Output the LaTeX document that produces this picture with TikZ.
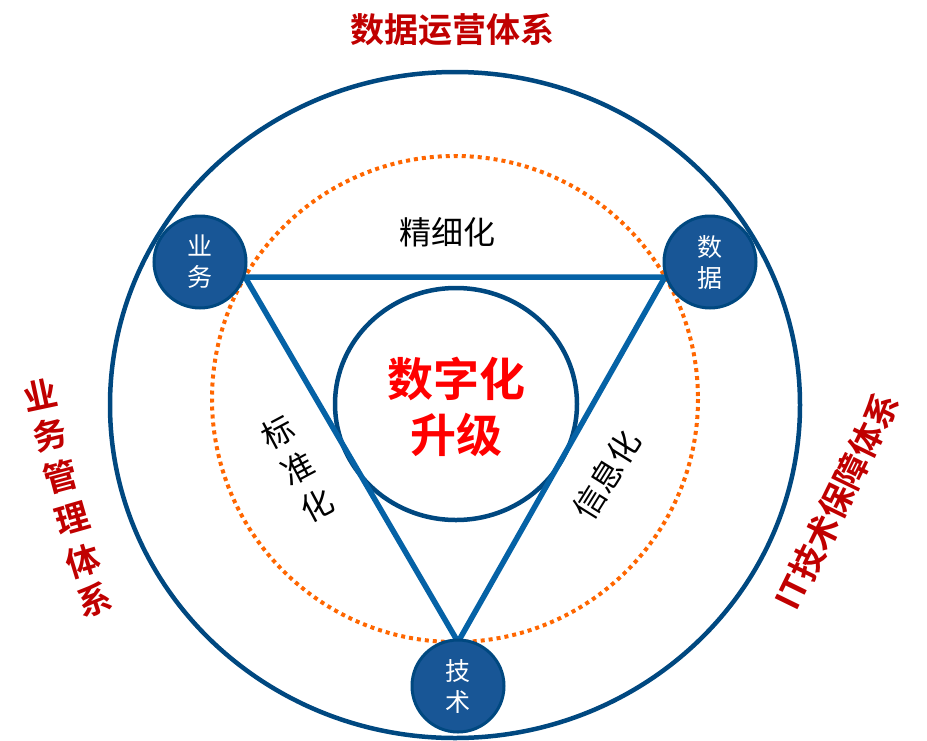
\documentclass[tikz,border=0pt]{standalone}
\usepackage{fontspec}
\newfontfamily\cjk{Noto Sans CJK SC}
\newfontfamily\cjkb{Noto Sans CJK SC Bold}
\definecolor{ringblue}{RGB}{0,72,128}
\definecolor{lineblue}{RGB}{5,98,166}
\definecolor{nodeblue}{RGB}{24,86,150}
\definecolor{darkred}{RGB}{192,0,0}
\definecolor{dotorange}{RGB}{255,102,0}
\tikzset{
  corner/.style={circle,draw=ringblue,fill=nodeblue,line width=3pt,minimum size=92pt,inner sep=0pt,
    text=white,font=\cjk\fontsize{25}{31}\selectfont,align=center},
  edgelabel/.style={font=\cjk\fontsize{32}{36}\selectfont},
  sidelabel/.style={text=darkred,font=\cjkb\fontsize{34}{38}\selectfont}
}
\begin{document}
\begin{tikzpicture}[x=1pt,y=-1pt]
  \useasboundingbox (0,0) rectangle (927,740);
  \draw[ringblue,line width=4.5pt] (455,405) ellipse (345 and 333);
  \draw[dotorange,line width=4pt,dash pattern=on 4pt off 4pt] (455,399) circle (243);
  \draw[ringblue,line width=4.5pt] (456,404) ellipse (121 and 116);
  \node[text=red,font=\cjkb\fontsize{46}{56}\selectfont,align=center] (core) at (456,407) {数字化\\升级};
  % triangle
  \coordinate (tl) at (245,277);
  \coordinate (tr) at (665,277);
  \coordinate (bt) at (458,642);
  \draw[lineblue,line width=5.5pt,line join=round] (tl) -- (tr) -- (bt) -- cycle;
  \node[corner] (biz) at (200,262) {业\\务};
  \node[corner] (data) at (710,262) {数\\据};
  \node[corner] (tech) at (458,686) {技\\术};
  \node[edgelabel] (fine) at (447,232) {精细化};
  \node[edgelabel,rotate=28] (std1) at (278,432) {标};
  \node[edgelabel,rotate=28] (std2) at (298,468) {准};
  \node[edgelabel,rotate=28] (std3) at (317,505) {化};
  \node[edgelabel,rotate=58] (info) at (607,475) {信息化};
  % outer labels
  \node[sidelabel] (title) at (452,30) {数据运营体系};
  \foreach \ch/\x/\y/\r [count=\i] in {业/40/395/12,务/50/435/14,管/61/477/15,理/72/519/16,体/83/561/17,系/95/600/18}
    \node[sidelabel,rotate=\r] (mgmt\i) at (\x,\y) {\ch};
  \node[sidelabel,rotate=64] (itsys) at (837,501) {IT技术保障体系};
\end{tikzpicture}
\end{document}
